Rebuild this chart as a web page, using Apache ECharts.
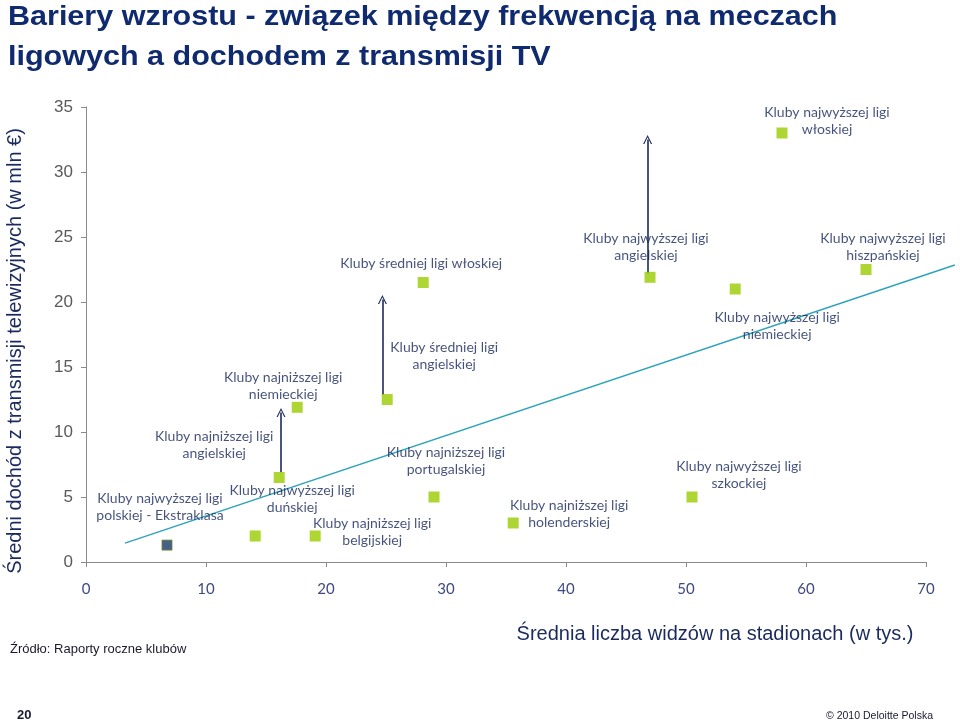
<!DOCTYPE html>
<html><head><meta charset="utf-8">
<script src="https://cdn.jsdelivr.net/npm/echarts@6/dist/echarts.min.js"></script>
<style>html,body{margin:0;padding:0;background:#fff}#c{width:960px;height:725px}</style>
</head><body><div id="c"></div>
<script>
// ---- data ----
const clubNames = [
  'Kluby najwyższej ligi\npolskiej - Ekstraklasa',
  'Kluby najwyższej ligi\nduńskiej',
  'Kluby najniższej ligi\nbelgijskiej',
  'Kluby najniższej ligi\nangielskiej',
  'Kluby najniższej ligi\nniemieckiej',
  'Kluby średniej ligi\nangielskiej',
  'Kluby średniej ligi włoskiej',
  'Kluby najniższej ligi\nportugalskiej',
  'Kluby najniższej ligi\nholenderskiej',
  'Kluby najwyższej ligi\nangielskiej',
  'Kluby najwyższej ligi\nszkockiej',
  'Kluby najwyższej ligi\nniemieckiej',
  'Kluby najwyższej ligi\nwłoskiej',
  'Kluby najwyższej ligi\nhiszpańskiej'
];
const attendance = [6.75, 14.1, 19.1, 16.1, 17.6, 25.1, 28.1, 29.0, 35.6, 47.0, 50.5, 54.1, 58.0, 65.0];
const tvIncome   = [1.3, 2.0, 2.0, 6.5, 11.9, 12.5, 21.5, 5.0, 3.0, 21.9, 5.0, 21.0, 33.0, 22.5];
const trendX = [3.25, 72.4];
const trendY = [1.45, 22.85];
const arrowX    = [16.25, 24.7, 46.8];
const arrowFrom = [6.9, 12.85, 22.2];
const arrowTo   = [11.5, 20.2, 32.5];
const xTicks = [0, 10, 20, 30, 40, 50, 60, 70];
const yTicks = [0, 5, 10, 15, 20, 25, 30, 35];

// ---- layout (label offsets in px, relative to the marker) ----
const labelOffsets = [[-7,-38],[37,-37],[57,-4],[-65,-33],[-14,-21],[57,-44],[-2,-19],[12,-36],[56,-9],[-4,-30],[47,-22],[42,37],[45,-12],[17,-23]];

const NAVY = '#1a2a5e';
const labelFont = 'Lato, "Open Sans", sans-serif';

function pointItem(i) {
  return {
    value: [attendance[i], tvIncome[i]],
    label: {
      show: true, position: 'inside', offset: labelOffsets[i],
      formatter: clubNames[i], align: 'center', verticalAlign: 'middle',
      color: '#15265a', fontSize: 14, lineHeight: 17, fontFamily: labelFont
    }
  };
}
const polishData = [pointItem(0)];
const otherData = [];
for (let i = 1; i < attendance.length; i++) otherData.push(pointItem(i));

const chevron = 'path://M0,10 L5,0 L10,10 L8.6,10 L5,2.6 L1.4,10 Z';
const arrowData = arrowX.map((x, i) => ({ coords: [[x, arrowFrom[i]], [x, arrowTo[i]]] }));

const chart = echarts.init(document.getElementById('c'), null, { renderer: 'canvas' });
chart.setOption({
  animation: false,
  backgroundColor: '#ffffff',
  grid: { left: 86, right: 34, top: 107, bottom: 163 },
  xAxis: {
    type: 'value', min: xTicks[0], max: xTicks[xTicks.length - 1], interval: 10,
    splitLine: { show: false },
    axisLine: { show: true, lineStyle: { color: '#8a8a8a', width: 1 } },
    axisTick: { show: true, length: 5, lineStyle: { color: '#8a8a8a' } },
    axisLabel: { color: '#3e4a80', fontSize: 15, margin: 20, fontFamily: '"Liberation Sans Narrow", Lato, sans-serif' }
  },
  yAxis: {
    type: 'value', min: yTicks[0], max: yTicks[yTicks.length - 1], interval: 5,
    splitLine: { show: false },
    axisLine: { show: true, lineStyle: { color: '#8a8a8a', width: 1 } },
    axisTick: { show: true, length: 5, lineStyle: { color: '#8a8a8a' } },
    axisLabel: { color: '#5a5a5a', fontSize: 17, margin: 13, fontFamily: '"Liberation Sans", Arial, sans-serif' }
  },
  series: [
    {
      type: 'custom', coordinateSystem: 'cartesian2d', clip: false,
      data: [[trendX[0], trendY[0], trendX[1], trendY[1]]],
      encode: { x: [0, 2], y: [1, 3] },
      renderItem: function (params, api) {
        const p1 = api.coord([api.value(0), api.value(1)]);
        const p2 = api.coord([api.value(2), api.value(3)]);
        return { type: 'line', shape: { x1: p1[0], y1: p1[1], x2: p2[0], y2: p2[1] },
          style: { stroke: '#2ea3bb', lineWidth: 1.5 } };
      }, z: 1
    },
    {
      type: 'lines', coordinateSystem: 'cartesian2d', data: arrowData,
      symbol: ['none', chevron], symbolSize: [11, 9],
      lineStyle: { color: NAVY, width: 1.6, opacity: 1 }, z: 2
    },
    {
      type: 'scatter', data: otherData, symbol: 'rect', symbolSize: 11,
      itemStyle: { color: '#99cc00' }, z: 3
    },
    {
      type: 'scatter', data: polishData, symbol: 'rect', symbolSize: 10,
      itemStyle: { color: '#173a6e', borderColor: '#6d8a1a', borderWidth: 1 }, z: 3
    }
  ],
  graphic: [
    { type: 'text', x: 8, y: 17, scaleX: 1.09,
      style: { text: 'Bariery wzrostu - związek między frekwencją na meczach', fill: '#0f2a6e',
        font: 'bold 28px "Liberation Sans", Arial, sans-serif', textAlign: 'left', textVerticalAlign: 'middle' } },
    { type: 'text', x: 8, y: 57, scaleX: 1.09,
      style: { text: 'ligowych a dochodem z transmisji TV', fill: '#0f2a6e',
        font: 'bold 28px "Liberation Sans", Arial, sans-serif', textAlign: 'left', textVerticalAlign: 'middle' } },
    { type: 'text', x: 15, y: 351, rotation: Math.PI / 2,
      style: { text: 'Średni dochód z transmisji telewizyjnych (w mln €)', fill: NAVY,
        font: '20px "Liberation Sans", Arial, sans-serif', textAlign: 'center', textVerticalAlign: 'middle' } },
    { type: 'text', x: 715, y: 634,
      style: { text: 'Średnia liczba widzów na stadionach (w tys.)', fill: NAVY,
        font: '20px "Liberation Sans", Arial, sans-serif', textAlign: 'center', textVerticalAlign: 'middle' } },
    { type: 'text', x: 10, y: 649,
      style: { text: 'Źródło: Raporty roczne klubów', fill: '#1a1a2e',
        font: '13px "Liberation Sans Narrow", "Liberation Sans", sans-serif', textAlign: 'left', textVerticalAlign: 'middle' } },
    { type: 'text', x: 17, y: 715,
      style: { text: '20', fill: '#1a1a2e',
        font: 'bold 13px "Liberation Sans", Arial, sans-serif', textAlign: 'left', textVerticalAlign: 'middle' } },
    { type: 'text', x: 933, y: 716,
      style: { text: '© 2010 Deloitte Polska', fill: '#1a1a2e',
        font: '10.5px "Liberation Sans Narrow", "Liberation Sans", sans-serif', textAlign: 'right', textVerticalAlign: 'middle' } }
  ]
});
</script></body></html>
